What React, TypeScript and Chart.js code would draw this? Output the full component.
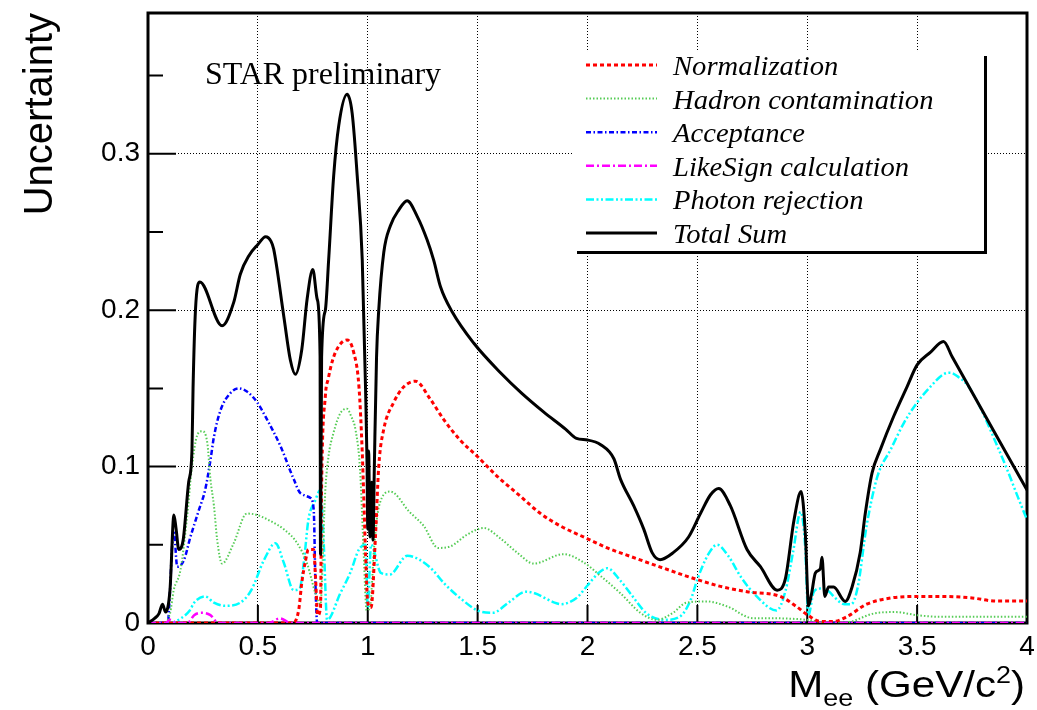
import React, { useEffect, useRef } from 'react';
import { Chart, registerables } from 'chart.js';

Chart.register(...registerables);

// ---------- data ----------
const totalX = [0, 0.03, 0.05, 0.066, 0.08, 0.10, 0.118, 0.128, 0.14, 0.16, 0.185, 0.20, 0.205, 0.216, 0.236, 0.337, 0.39, 0.42, 0.46, 0.50, 0.535, 0.56, 0.572, 0.618, 0.648, 0.671, 0.70, 0.724, 0.75, 0.77, 0.783, 0.785, 0.79, 0.807, 0.822, 0.845, 0.868, 0.906, 0.929, 0.952, 0.975, 0.99, 0.997, 1.0, 1.004, 1.01, 1.018, 1.024, 1.03, 1.04, 1.05, 1.073, 1.103, 1.141, 1.179, 1.225, 1.27, 1.30, 1.331, 1.384, 1.482, 1.604, 1.7, 1.8, 1.9, 1.95, 2.0, 2.06, 2.12, 2.15, 2.21, 2.256, 2.294, 2.33, 2.39, 2.46, 2.514, 2.56, 2.597, 2.65, 2.726, 2.787, 2.863, 2.9, 2.94, 2.972, 2.991, 3.006, 3.02, 3.037, 3.06, 3.067, 3.08, 3.097, 3.12, 3.173, 3.204, 3.241, 3.264, 3.295, 3.333, 3.393, 3.454, 3.5, 3.56, 3.62, 3.66, 3.75, 3.85, 3.95, 4.0];
const totalY = [0, 0.003, 0.006, 0.012, 0.007, 0.021, 0.069, 0.06, 0.047, 0.053, 0.09, 0.11, 0.15, 0.2, 0.218, 0.19, 0.205, 0.223, 0.235, 0.242, 0.247, 0.244, 0.239, 0.196, 0.168, 0.159, 0.175, 0.207, 0.226, 0.207, 0.171, 0.044, 0.17, 0.2, 0.232, 0.286, 0.318, 0.338, 0.326, 0.286, 0.232, 0.15, 0.10, 0.06, 0.11, 0.055, 0.09, 0.053, 0.10, 0.17, 0.2, 0.237, 0.254, 0.264, 0.27, 0.26, 0.245, 0.232, 0.215, 0.199, 0.179, 0.16, 0.147, 0.135, 0.124, 0.118, 0.117, 0.114, 0.105, 0.092, 0.075, 0.06, 0.045, 0.0405, 0.045, 0.055, 0.07, 0.082, 0.086, 0.075, 0.047, 0.036, 0.021, 0.028, 0.066, 0.084, 0.058, 0.011, 0.019, 0.032, 0.035, 0.042, 0.017, 0.023, 0.023, 0.0138, 0.023, 0.045, 0.07, 0.096, 0.111, 0.132, 0.151, 0.165, 0.173, 0.18, 0.170, 0.1475, 0.1225, 0.0975, 0.085];

const photonX = [0, 0.10, 0.15, 0.19, 0.21, 0.26, 0.30, 0.35, 0.42, 0.47, 0.527, 0.58, 0.618, 0.663, 0.69, 0.71, 0.73, 0.76, 0.785, 0.80, 0.815, 0.875, 0.92, 0.96, 0.99, 1.0, 1.015, 1.06, 1.10, 1.18, 1.28, 1.35, 1.42, 1.5, 1.57, 1.64, 1.72, 1.76, 1.85, 1.88, 1.95, 2.0, 2.05, 2.09, 2.15, 2.2, 2.27, 2.35, 2.42, 2.47, 2.5, 2.55, 2.59, 2.64, 2.7, 2.77, 2.86, 2.9, 2.935, 2.97, 2.99, 3.005, 3.03, 3.06, 3.1, 3.12, 3.17, 3.2, 3.23, 3.27, 3.32, 3.38, 3.44, 3.5, 3.56, 3.62, 3.65, 3.69, 3.73, 3.79, 3.85, 3.91, 3.96, 4.0];
const photonY = [0, 0, 0.003, 0.008, 0.013, 0.017, 0.013, 0.011, 0.013, 0.021, 0.040, 0.051, 0.0385, 0.021, 0.022, 0.040, 0.066, 0.078, 0.085, 0.05, 0.002, 0.019, 0.032, 0.047, 0.05, 0.01, 0.05, 0.032, 0.031, 0.043, 0.036, 0.025, 0.016, 0.008, 0.0066, 0.013, 0.020, 0.019, 0.013, 0.012, 0.016, 0.024, 0.032, 0.035, 0.027, 0.018, 0.006, 0.002, 0.004, 0.015, 0.028, 0.044, 0.050, 0.043, 0.029, 0.017, 0.008, 0.020, 0.045, 0.071, 0.05, 0.005, 0.02, 0.022, 0.02, 0.017, 0.012, 0.012, 0.023, 0.062, 0.094, 0.111, 0.128, 0.141, 0.151, 0.159, 0.16, 0.157, 0.152, 0.137, 0.118, 0.098, 0.08, 0.066];

const normX = [0, 0.66, 0.686, 0.70, 0.717, 0.73, 0.754, 0.762, 0.772, 0.785, 0.79, 0.807, 0.82, 0.84, 0.868, 0.906, 0.936, 0.96, 0.975, 0.99, 1.0, 1.015, 1.035, 1.05, 1.073, 1.118, 1.164, 1.217, 1.285, 1.346, 1.42, 1.498, 1.589, 1.695, 1.786, 1.877, 1.998, 2.09, 2.195, 2.347, 2.5, 2.605, 2.726, 2.877, 2.95, 3.0, 3.06, 3.12, 3.18, 3.27, 3.38, 3.5, 3.6, 3.75, 3.86, 4.0];
const normY = [0, 0, 0.0085, 0.026, 0.040, 0.047, 0.047, 0.030, 0.005, 0.01, 0.087, 0.145, 0.156, 0.168, 0.177, 0.181, 0.173, 0.151, 0.109, 0.045, 0.013, 0.01, 0.055, 0.10, 0.124, 0.141, 0.151, 0.1546, 0.143, 0.130, 0.117, 0.1066, 0.0938, 0.081, 0.070, 0.062, 0.054, 0.048, 0.0426, 0.035, 0.0277, 0.0234, 0.020, 0.017, 0.0106, 0.0053, 0.001, 0.001, 0.004, 0.012, 0.016, 0.017, 0.017, 0.016, 0.014, 0.014];

const hadronX = [0, 0.07, 0.10, 0.117, 0.148, 0.178, 0.20, 0.224, 0.246, 0.27, 0.284, 0.30, 0.315, 0.337, 0.39, 0.45, 0.497, 0.56, 0.618, 0.679, 0.724, 0.762, 0.785, 0.795, 0.805, 0.82, 0.845, 0.875, 0.905, 0.925, 0.945, 0.965, 0.98, 0.995, 1.01, 1.03, 1.05, 1.103, 1.19, 1.255, 1.32, 1.376, 1.452, 1.528, 1.604, 1.68, 1.755, 1.89, 1.98, 2.06, 2.15, 2.24, 2.317, 2.39, 2.45, 2.544, 2.635, 2.756, 2.85, 3.0, 3.1, 3.2, 3.3, 3.4, 3.5, 3.6, 4.0];
const hadronY = [0, 0, 0.006, 0.021, 0.034, 0.068, 0.10, 0.12, 0.1226, 0.115, 0.092, 0.075, 0.053, 0.038, 0.051, 0.070, 0.069, 0.065, 0.060, 0.051, 0.038, 0.019, 0.012, 0.04, 0.08, 0.105, 0.122, 0.134, 0.137, 0.132, 0.123, 0.098, 0.05, 0.008, 0.01, 0.05, 0.074, 0.084, 0.071, 0.062, 0.048, 0.049, 0.0565, 0.0607, 0.054, 0.045, 0.038, 0.044, 0.039, 0.030, 0.019, 0.0066, 0.002, 0.0066, 0.013, 0.0138, 0.0106, 0.003, 0.003, 0.002, 0, 0.001, 0.006, 0.007, 0.005, 0.004, 0.004];

const acceptX = [0, 0.09, 0.10, 0.11, 0.118, 0.133, 0.163, 0.193, 0.231, 0.26, 0.284, 0.30, 0.33, 0.375, 0.413, 0.45, 0.497, 0.542, 0.603, 0.663, 0.694, 0.739, 0.754, 0.762, 0.77, 4.0];
const acceptY = [0, 0, 0.02, 0.05, 0.058, 0.036, 0.040, 0.055, 0.072, 0.085, 0.104, 0.119, 0.136, 0.147, 0.150, 0.148, 0.141, 0.130, 0.113, 0.092, 0.083, 0.080, 0.0725, 0.025, 0, 0];

const likeSignX = [0, 0.08, 0.10, 0.13, 0.18, 0.21, 0.246, 0.284, 0.32, 0.55, 0.60, 0.65, 4.0];
const likeSignY = [0, 0, 0.002, 0, 0, 0.005, 0.0065, 0.005, 0, 0, 0.003, 0, 0];

const seriesLabels = ['Normalization', 'Hadron contamination', 'Acceptance', 'LikeSign calculation', 'Photon rejection', 'Total Sum'];
const xTitleMain = 'M';
const xTitleSub = 'ee';
const xTitleMid = ' (GeV/c';
const xTitleSup = '2';
const xTitleEnd = ')';
const yTitle = 'Uncertainty';
const stampText = 'STAR preliminary';

const pts = (xs: number[], ys: number[]) => xs.map((x, i) => ({ x, y: ys[i] }));

const rootPlugin = {
  id: 'rootStyle',
  beforeDatasetsDraw(chart: any) {
    const { ctx, chartArea: a, scales } = chart;
    const y = scales.y;
    const x = scales.x;
    ctx.save();
    ctx.strokeStyle = '#000';
    ctx.lineWidth = 2;
    ctx.setLineDash([]);
    const yt = y.ticks.map((t: any) => t.value);
    const step = yt.length > 1 ? yt[1] - yt[0] : 0.1;
    ctx.beginPath();
    yt.forEach((v: number) => {
      const py = y.getPixelForValue(v);
      ctx.moveTo(a.left, py);
      ctx.lineTo(a.left + 28, py);
      const pm = y.getPixelForValue(v + step / 2);
      if (pm > a.top) {
        ctx.moveTo(a.left, pm);
        ctx.lineTo(a.left + 15, pm);
      }
    });
    x.ticks.forEach((t: any) => {
      const px = x.getPixelForValue(t.value);
      ctx.moveTo(px, a.bottom);
      ctx.lineTo(px, a.bottom - 18);
    });
    ctx.stroke();
    ctx.lineWidth = 3;
    ctx.strokeRect(a.left, a.top, a.right - a.left, a.bottom - a.top);
    ctx.restore();
  },
  afterDraw(chart: any) {
    const { ctx, chartArea: a } = chart;
    ctx.save();
    // legend box (white, with shadow on right and bottom)
    ctx.fillStyle = '#fff';
    ctx.fillRect(572, 52, 412, 199);
    ctx.fillStyle = '#000';
    ctx.fillRect(984, 56, 3, 198);
    ctx.fillRect(577, 251, 410, 3);
    chart.data.datasets.forEach((ds: any, i: number) => {
      const rowY = 65 + i * 33.6;
      ctx.strokeStyle = ds.borderColor;
      ctx.lineWidth = ds.borderWidth;
      ctx.setLineDash(ds.borderDash || []);
      ctx.beginPath();
      ctx.moveTo(586, rowY);
      ctx.lineTo(657, rowY);
      ctx.stroke();
      ctx.setLineDash([]);
      ctx.fillStyle = '#000';
      ctx.font = 'italic 27px "Liberation Serif"';
      ctx.textAlign = 'left';
      ctx.textBaseline = 'alphabetic';
      ctx.save();
      ctx.translate(673, rowY + 10);
      ctx.scale(1.06, 1);
      ctx.fillText(ds.label, 0, 0);
      ctx.restore();
    });
    ctx.fillStyle = '#000';
    ctx.font = '31px "Liberation Serif"';
    ctx.textAlign = 'left';
    ctx.textBaseline = 'alphabetic';
    ctx.save();
    ctx.translate(205, 84);
    ctx.scale(1.03, 1);
    ctx.fillText(stampText, 0, 0);
    ctx.restore();
    // y title
    ctx.save();
    ctx.translate(52, a.top);
    ctx.rotate(-Math.PI / 2);
    ctx.font = '40px "Liberation Sans"';
    ctx.textAlign = 'right';
    ctx.textBaseline = 'alphabetic';
    ctx.fillText(yTitle, 0, 0);
    ctx.restore();
    // x title with sub/superscript
    const sx = 1.17;
    const big = '36px "Liberation Sans"';
    const small = '23px "Liberation Sans"';
    const parts = [
      { t: xTitleMain, f: big, dy: 0 },
      { t: xTitleSub, f: small, dy: 9 },
      { t: xTitleMid, f: big, dy: 0 },
      { t: xTitleSup, f: small, dy: -14 },
      { t: xTitleEnd, f: big, dy: 0 },
    ];
    let total = 0;
    parts.forEach((p) => { ctx.font = p.f; total += ctx.measureText(p.t).width; });
    ctx.save();
    ctx.translate(1025 - total * sx, 697);
    ctx.scale(sx, 1);
    let cx = 0;
    ctx.textAlign = 'left';
    parts.forEach((p) => {
      ctx.font = p.f;
      ctx.fillText(p.t, cx, p.dy);
      cx += ctx.measureText(p.t).width;
    });
    ctx.restore();
    ctx.restore();
  },
};

export default function App() {
  const ref = useRef<HTMLCanvasElement | null>(null);
  useEffect(() => {
    if (!ref.current) return;
    const tickFont = { family: '"Liberation Sans"', size: 28, lineHeight: 1.2 };
    const chart = new Chart(ref.current, {
      type: 'line',
      data: {
        datasets: [
          { label: seriesLabels[0], data: pts(normX, normY), borderColor: '#ff0000', borderWidth: 3, borderDash: [4, 3], cubicInterpolationMode: 'monotone', order: 2 },
          { label: seriesLabels[1], data: pts(hadronX, hadronY), borderColor: '#55cc55', borderWidth: 2, borderDash: [1.5, 2], cubicInterpolationMode: 'monotone', order: 3 },
          { label: seriesLabels[2], data: pts(acceptX, acceptY), borderColor: '#0000ff', borderWidth: 2.5, borderDash: [5, 2.5, 1.5, 2.5], cubicInterpolationMode: 'monotone', order: 4 },
          { label: seriesLabels[3], data: pts(likeSignX, likeSignY), borderColor: '#ff00ff', borderWidth: 2.5, borderDash: [8, 3, 2, 3], cubicInterpolationMode: 'monotone', order: 1 },
          { label: seriesLabels[4], data: pts(photonX, photonY), borderColor: '#00ffff', borderWidth: 2.5, borderDash: [8, 2.5, 2, 2.5, 2, 2.5], cubicInterpolationMode: 'monotone', order: 5 },
          { label: seriesLabels[5], data: pts(totalX, totalY), borderColor: '#000000', borderWidth: 3, cubicInterpolationMode: 'monotone', order: 0 },
        ] as any,
      },
      options: {
        responsive: false,
        animation: false,
        devicePixelRatio: 1,
        layout: { padding: { left: 0, top: 13, right: 10, bottom: 0 } },
        elements: { point: { radius: 0 } },
        plugins: { legend: { display: false }, tooltip: { enabled: false } },
        scales: {
          x: {
            type: 'linear',
            min: 0,
            max: 4,
            ticks: { stepSize: 0.5, color: '#000', font: tickFont, padding: 7, maxRotation: 0, callback: (v: any) => String(Math.round(Number(v) * 10) / 10) },
            grid: { color: '#000', lineWidth: 1, drawTicks: false },
            border: { display: false, dash: [1, 2] },
            afterFit: (s: any) => { s.height = 87; s.paddingLeft = 0; s.paddingRight = 0; },
          },
          y: {
            type: 'linear',
            min: 0,
            max: 0.39,
            ticks: { stepSize: 0.1, color: '#000', font: tickFont, padding: 8, callback: (v: any) => String(Math.round(Number(v) * 10) / 10) },
            grid: { color: '#000', lineWidth: 1, drawTicks: false },
            border: { display: false, dash: [1, 2] },
            afterBuildTicks: (s: any) => {
              s.ticks = s.ticks.filter((t: any) => Math.abs(t.value * 10 - Math.round(t.value * 10)) < 1e-6);
            },
            afterFit: (s: any) => { s.width = 148; s.paddingTop = 0; s.paddingBottom = 0; },
          },
        },
      } as any,
      plugins: [rootPlugin],
    });
    return () => chart.destroy();
  }, []);
  return (
    <div style={{ position: 'absolute', left: 0, top: 0, width: 1037, height: 710, background: '#fff' }}>
      <canvas ref={ref} width={1037} height={710} style={{ display: 'block' }} />
    </div>
  );
}
